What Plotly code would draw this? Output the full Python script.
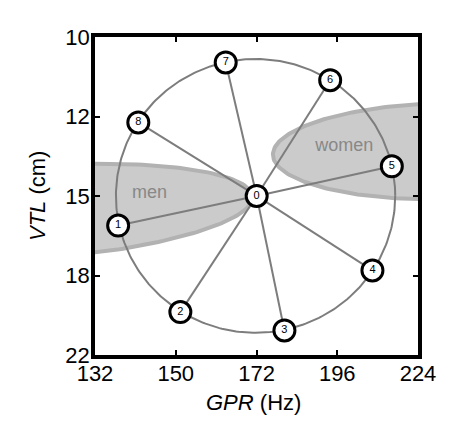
import numpy as np
import plotly.graph_objects as go

# ---------------- data ----------------
x_tick_vals = [132, 150.66, 171.96, 196.26, 224]
x_tick_text = ["132", "150", "172", "196", "224"]
y_tick_vals = [10, 12.179, 14.832, 18.064, 22]
y_tick_text = ["10", "12", "15", "18", "22"]

centre_label = "0"
centre_gpr = 172.0
centre_vtl = 14.83

point_labels = ["1", "2", "3", "4", "5", "6", "7", "8"]
point_gpr = [137.1, 151.8, 180.0, 207.9, 214.6, 194.0, 163.5, 141.7]
point_vtl = [15.96, 19.78, 20.70, 17.84, 13.78, 11.13, 10.65, 12.36]

# extents of the circle of points (GPR left/right, VTL top/bottom)
circle_gpr_extent = [136.6, 215.8]
circle_vtl_extent = [10.56, 20.82]

# speaker distributions: centre (GPR, VTL), semi-axes (fraction of axis span), tilt (deg)
men_centre = [118.7, 15.47]
men_axes = [0.691, 0.146]
men_tilt = -4.3
women_centre = [233.4, 13.27]
women_axes = [0.527, 0.151]
women_tilt = -1.3

group_names = ["men", "women"]
group_label_gpr = [144.3, 198.5]
group_label_vtl = [14.73, 13.13]

X_MIN, X_MAX = 132, 224
Y_MIN, Y_MAX = 10, 22
LX = np.log(X_MAX / X_MIN)
LY = np.log(Y_MAX / Y_MIN)


def to_norm(g, v):
    return np.log(g / X_MIN) / LX, np.log(v / Y_MIN) / LY


def from_norm(u, v):
    return X_MIN * np.exp(u * LX), Y_MIN * np.exp(v * LY)


def ellipse(centre, axes, tilt, n=240):
    u0, v0 = to_norm(centre[0], centre[1])
    a, b = axes
    al = np.radians(tilt)
    t = np.linspace(0, 2 * np.pi, n)
    u = u0 + a * np.cos(t) * np.cos(al) - b * np.sin(t) * np.sin(al)
    v = v0 + a * np.cos(t) * np.sin(al) + b * np.sin(t) * np.cos(al)
    return from_norm(u, v)


FONT = "Liberation Sans, Arial, sans-serif"
GREY_LINE = "#7d7d7d"
FILL = "#cbcbcb"
EDGE = "#b2b2b2"

fig = go.Figure()

for c, ax, tl in [(men_centre, men_axes, men_tilt), (women_centre, women_axes, women_tilt)]:
    gx, gy = ellipse(c, ax, tl)
    fig.add_trace(go.Scatter(x=gx, y=gy, mode="lines", fill="toself", fillcolor=FILL,
                             line=dict(color=EDGE, width=4), hoverinfo="skip", showlegend=False))

fig.add_trace(go.Scatter(x=group_label_gpr, y=group_label_vtl, mode="text", text=group_names,
                         textfont=dict(family=FONT, size=18, color="#888888"),
                         hoverinfo="skip", showlegend=False))

# circle through the points
u1, v1 = to_norm(circle_gpr_extent[0], circle_vtl_extent[0])
u2, v2 = to_norm(circle_gpr_extent[1], circle_vtl_extent[1])
t = np.linspace(0, 2 * np.pi, 361)
cu = (u1 + u2) / 2 + (u2 - u1) / 2 * np.cos(t)
cv = (v1 + v2) / 2 + (v2 - v1) / 2 * np.sin(t)
cgx, cgy = from_norm(cu, cv)
fig.add_trace(go.Scatter(x=cgx, y=cgy, mode="lines", line=dict(color=GREY_LINE, width=2),
                         hoverinfo="skip", showlegend=False))

# spokes
sx, sy = [], []
for g, v in zip(point_gpr, point_vtl):
    sx += [centre_gpr, g, None]
    sy += [centre_vtl, v, None]
fig.add_trace(go.Scatter(x=sx, y=sy, mode="lines", line=dict(color=GREY_LINE, width=2),
                         hoverinfo="skip", showlegend=False))

# numbered markers
fig.add_trace(go.Scatter(
    x=[centre_gpr] + point_gpr, y=[centre_vtl] + point_vtl,
    mode="markers+text", text=[centre_label] + point_labels, textposition="middle center",
    textfont=dict(family=FONT, size=11, color="black"),
    marker=dict(size=21, color="white", line=dict(color="black", width=3)),
    showlegend=False))

axis_common = dict(
    type="log", showgrid=False, zeroline=False, showline=True, linecolor="black",
    linewidth=3.5, mirror="ticks", ticks="inside", ticklen=5, tickwidth=2, tickcolor="black",
    tickfont=dict(family=FONT, size=22, color="black"), automargin=False,
)

fig.update_layout(
    width=474, height=431,
    margin=dict(l=95, r=56, t=37, b=76),
    paper_bgcolor="white", plot_bgcolor="white",
    font=dict(family=FONT, color="black"),
    xaxis=dict(range=[np.log10(X_MIN), np.log10(X_MAX)], tickvals=x_tick_vals, ticktext=x_tick_text,
               ticklabelstandoff=-4, **axis_common),
    yaxis=dict(range=[np.log10(Y_MAX), np.log10(Y_MIN)], tickvals=y_tick_vals, ticktext=y_tick_text,
               ticklabelstandoff=-3, **axis_common),
    annotations=[
        dict(text="<i>GPR</i> (Hz)", xref="paper", yref="paper", x=0.5, y=0, xanchor="center",
             yanchor="middle", yshift=-47, xshift=-3, showarrow=False,
             font=dict(family=FONT, size=22, color="black")),
        dict(text="<i>VTL</i> (cm)", xref="paper", yref="paper", x=0, y=0.5, xanchor="center",
             yanchor="middle", xshift=-58, textangle=-90, showarrow=False,
             font=dict(family=FONT, size=22, color="black")),
    ],
)

fig.write_html("out.html", config={"displayModeBar": False},
               post_script="document.body.style.margin='0';")
